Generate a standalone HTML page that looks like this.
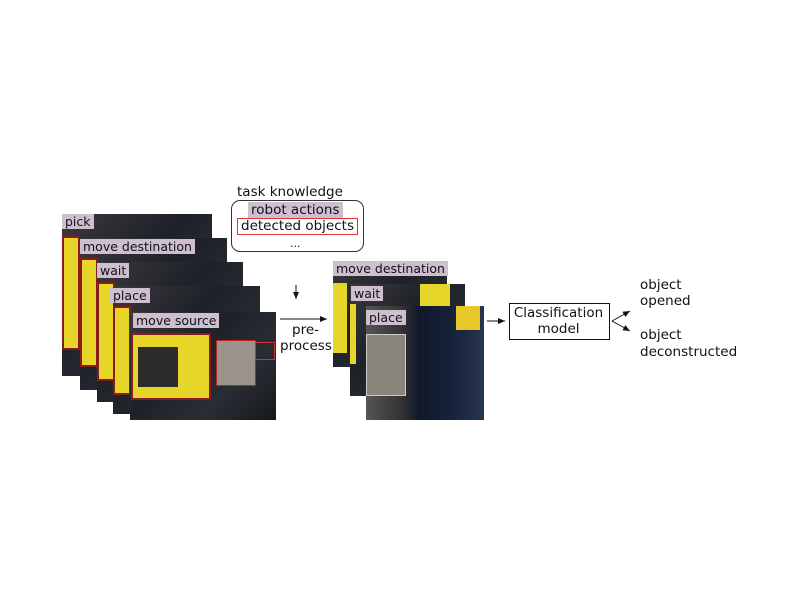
<!DOCTYPE html>
<html><head><style>
body{margin:0;width:800px;height:600px;background:#fff;position:relative;overflow:hidden;font-family:"DejaVu Sans","Liberation Sans",sans-serif;color:#111}
.f{position:absolute;background:linear-gradient(135deg,#3a3a3e 0%,#1e2128 40%,#2a2d34 70%,#15171c 100%);overflow:hidden}
.f .y{position:absolute;background:#e6d62a;border:2px solid #8b1a1a}
.f .s{position:absolute;background:#777;}
.lb{position:absolute;background:#cdbfd0;font-size:12.5px;line-height:15px;padding:0 3px;color:#111;white-space:nowrap}
.t{position:absolute;font-size:13.5px;white-space:nowrap;line-height:16px}
</style></head><body>
<div class="f" style="left:62px;top:214px;width:150px;height:162px"><div class="y" style="left:0;top:22px;width:14px;height:110px"></div></div>
<div class="lb" style="left:62px;top:214px">pick</div>
<div class="f" style="left:80px;top:238px;width:147px;height:152px"><div class="y" style="left:0;top:20px;width:14px;height:105px"></div></div>
<div class="lb" style="left:80px;top:239px">move destination</div>
<div class="f" style="left:97px;top:262px;width:146px;height:140px"><div class="y" style="left:0;top:20px;width:14px;height:95px"></div></div>
<div class="lb" style="left:97px;top:263px">wait</div>
<div class="f" style="left:113px;top:286px;width:147px;height:128px"><div class="y" style="left:0;top:20px;width:14px;height:85px"></div></div>
<div class="lb" style="left:110px;top:288px">place</div>
<div class="f" style="left:130px;top:312px;width:146px;height:108px">
 <div class="y" style="left:1px;top:21px;width:76px;height:63px"></div>
 <div style="position:absolute;left:8px;top:35px;width:40px;height:40px;background:#2b2b2b"></div>
 <div class="s" style="left:86px;top:28px;width:38px;height:44px;background:#9a948a;border:1px solid #b22"></div>
 <div style="position:absolute;left:125px;top:30px;width:18px;height:16px;border:1px solid #c33"></div>
</div>
<div class="lb" style="left:133px;top:313px">move source</div>
<div class="t" style="left:237px;top:184px">task knowledge</div>
<div style="position:absolute;left:231px;top:200px;width:131px;height:50px;border:1px solid #333;border-radius:9px"></div>
<div class="t" style="left:248px;top:202px;background:#cdbfd0;padding:0 3px">robot actions</div>
<div class="t" style="left:237px;top:218px;border:1px solid #d33;padding:0 3px;line-height:15px">detected objects</div>
<div class="t" style="left:290px;top:236px;font-size:11px">...</div>
<svg style="position:absolute;left:0;top:0" width="800" height="600">
 <defs><marker id="a" markerWidth="8" markerHeight="8" refX="7" refY="4" orient="auto"><path d="M0,1 L7,4 L0,7 Z" fill="#111"/></marker></defs>
 <line x1="296" y1="285" x2="296" y2="299" stroke="#111" stroke-width="1" marker-end="url(#a)"/>
 <line x1="280" y1="319" x2="327" y2="319" stroke="#111" stroke-width="1" marker-end="url(#a)"/>
 <line x1="487" y1="321" x2="505" y2="321" stroke="#111" stroke-width="1" marker-end="url(#a)"/>
 <line x1="612" y1="321" x2="630" y2="311" stroke="#111" stroke-width="1" marker-end="url(#a)"/>
 <line x1="612" y1="321" x2="630" y2="331" stroke="#111" stroke-width="1" marker-end="url(#a)"/>
</svg>
<div class="t" style="left:292px;top:322px">pre-</div>
<div class="t" style="left:280px;top:338px">process</div>
<div class="f" style="left:333px;top:261px;width:114px;height:106px"><div class="y" style="left:0;top:22px;width:14px;height:70px;border:none"></div></div>
<div class="lb" style="left:333px;top:261px">move destination</div>
<div class="f" style="left:350px;top:284px;width:115px;height:112px"><div class="y" style="left:0;top:20px;width:6px;height:60px;border:none"></div><div class="y" style="left:70px;top:0;width:30px;height:50px;border:none"></div></div>
<div class="lb" style="left:351px;top:286px">wait</div>
<div class="f" style="left:366px;top:306px;width:118px;height:114px;background:linear-gradient(90deg,#555 0%,#333 30%,#10182a 45%,#1a2540 80%,#2a3550 100%)">
 <div class="s" style="left:0;top:28px;width:38px;height:60px;background:#8a857c;border:1px solid #ccc"></div>
 <div style="position:absolute;left:90px;top:0;width:24px;height:24px;background:#e6c82a"></div>
</div>
<div class="lb" style="left:366px;top:310px">place</div>
<div style="position:absolute;left:509px;top:303px;width:99px;height:35px;border:1px solid #111"></div>
<div class="t" style="left:509px;top:305px;width:99px;text-align:center">Classification</div>
<div class="t" style="left:509px;top:321px;width:99px;text-align:center">model</div>
<div class="t" style="left:640px;top:277px">object</div>
<div class="t" style="left:640px;top:293px">opened</div>
<div class="t" style="left:640px;top:327px">object</div>
<div class="t" style="left:640px;top:344px">deconstructed</div>
</body></html>
